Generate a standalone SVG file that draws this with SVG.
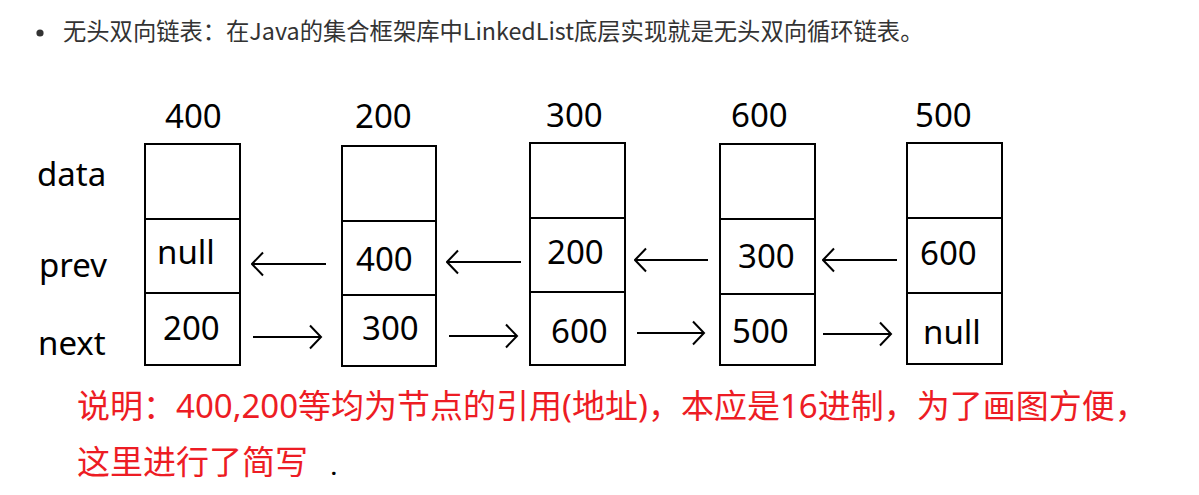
<svg xmlns="http://www.w3.org/2000/svg" width="1199" height="495" viewBox="0 0 1199 495">
<style>
.box{fill:#fff;stroke:#000;stroke-width:2}
.t{font-family:"Noto Sans","Noto Sans CJK SC",sans-serif;font-size:33px;fill:#000}
.hdr{font-family:"Noto Sans CJK SC","Noto Sans",sans-serif;font-size:23.3px;fill:#333}
.red{font-family:"Noto Sans","Noto Sans CJK SC",sans-serif;font-size:33px;fill:#ED1C24}
.ln{stroke:#000;stroke-width:2;fill:none}
</style>
<defs>
<marker id="ah" viewBox="0 0 14 28" markerWidth="14" markerHeight="28" refX="12.5" refY="14" orient="auto" markerUnits="userSpaceOnUse">
<path d="M1.5,2.5 L12.5,14 L1.5,25.5" fill="none" stroke="#000" stroke-width="2"/>
</marker>
</defs>
<rect width="1199" height="495" fill="#fff"/>
<g id="title">
<circle cx="40" cy="33" r="3.6" fill="#333"/>
<text class="hdr" x="63" y="40">无头双向链表：在Java的集合框架库中LinkedList底层实现就是无头双向循环链表。</text>
</g>
<g id="row-labels">
<text class="t" x="37" y="186">data</text>
<text class="t" x="39" y="277">prev</text>
<text class="t" x="38" y="355">next</text>
</g>
<g id="node-400">
<text class="t" x="165" y="128">400</text>
<rect class="box" x="145" y="144" width="95" height="221"/>
<line class="ln" x1="145" y1="219" x2="240" y2="219"/>
<line class="ln" x1="145" y1="293" x2="240" y2="293"/>
<text class="t" x="157" y="264">null</text>
<text class="t" x="163" y="340">200</text>
</g>
<g id="node-200">
<text class="t" x="355" y="128">200</text>
<rect class="box" x="342" y="146" width="94" height="220"/>
<line class="ln" x1="342" y1="221" x2="436" y2="221"/>
<line class="ln" x1="342" y1="295" x2="436" y2="295"/>
<text class="t" x="356" y="271">400</text>
<text class="t" x="362" y="340">300</text>
</g>
<g id="node-300">
<text class="t" x="546" y="127">300</text>
<rect class="box" x="530" y="143" width="95" height="222"/>
<line class="ln" x1="530" y1="218" x2="625" y2="218"/>
<line class="ln" x1="530" y1="292" x2="625" y2="292"/>
<text class="t" x="547" y="264">200</text>
<text class="t" x="551" y="343">600</text>
</g>
<g id="node-600">
<text class="t" x="731" y="127">600</text>
<rect class="box" x="720" y="144" width="95" height="221"/>
<line class="ln" x1="720" y1="219" x2="815" y2="219"/>
<line class="ln" x1="720" y1="294" x2="815" y2="294"/>
<text class="t" x="738" y="268">300</text>
<text class="t" x="732" y="343">500</text>
</g>
<g id="node-500">
<text class="t" x="915" y="127">500</text>
<rect class="box" x="907" y="143" width="95" height="221"/>
<line class="ln" x1="907" y1="218" x2="1002" y2="218"/>
<line class="ln" x1="907" y1="293" x2="1002" y2="293"/>
<text class="t" x="920" y="265">600</text>
<text class="t" x="923" y="344">null</text>
</g>
<g id="connectors">
<line class="ln" x1="326" y1="264" x2="252" y2="264" marker-end="url(#ah)"/>
<line class="ln" x1="253" y1="337" x2="321" y2="337" marker-end="url(#ah)"/>
<line class="ln" x1="521" y1="262" x2="447" y2="262" marker-end="url(#ah)"/>
<line class="ln" x1="449" y1="336" x2="517" y2="336" marker-end="url(#ah)"/>
<line class="ln" x1="708" y1="260" x2="635" y2="260" marker-end="url(#ah)"/>
<line class="ln" x1="637" y1="333" x2="704" y2="333" marker-end="url(#ah)"/>
<line class="ln" x1="897" y1="260" x2="823" y2="260" marker-end="url(#ah)"/>
<line class="ln" x1="823" y1="334" x2="891" y2="334" marker-end="url(#ah)"/>
</g>
<g id="note">
<text class="red" x="77" y="418">说明：400,200等均为节点的引用(地址)，本应是16进制，为了画图方便，</text>
<text class="red" x="77" y="474">这里进行了简写</text>
<text x="331" y="475" font-family="Noto Sans, sans-serif" font-size="20" font-weight="bold" fill="#000">.</text>
</g>
</svg>
